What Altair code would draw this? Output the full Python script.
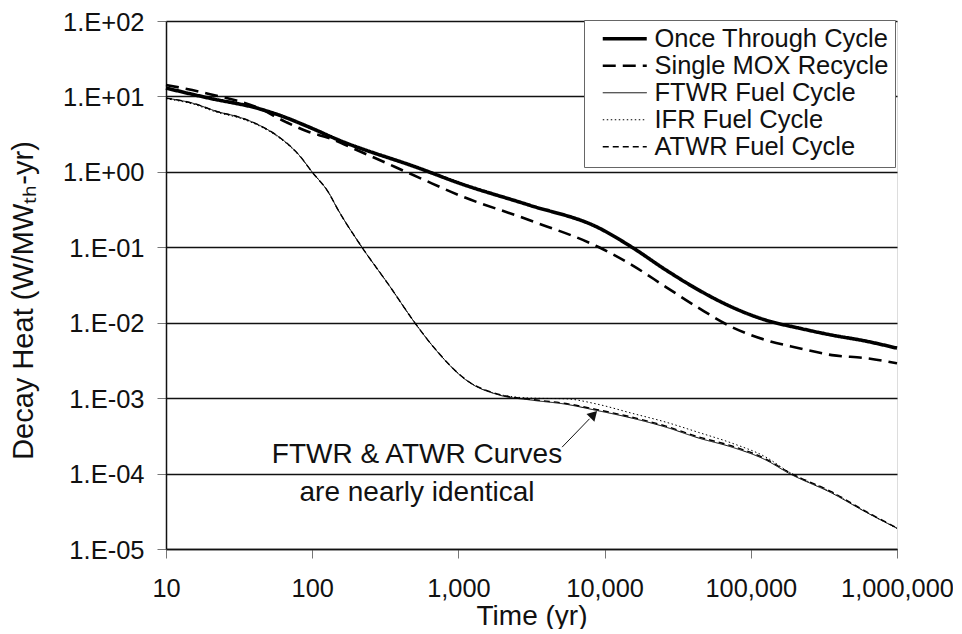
import altair as alt
import pandas as pd

FONT = "Liberation Sans"

series_names = ["Once Through Cycle", "Single MOX Recycle", "FTWR Fuel Cycle",
                "IFR Fuel Cycle", "ATWR Fuel Cycle"]

# thermal reactor cycles
ot_time = [10, 19.7, 43, 59.3, 95, 152, 537, 1010, 3040, 9160, 15400, 26300,
           44200, 74300, 127000, 214000, 359000, 613000, 1000000]
once_through = [12.9, 9.5, 6.9, 5.66, 3.93, 2.64, 1.12, 0.71, 0.363, 0.18, 0.10,
                0.0499, 0.027, 0.0161, 0.0108, 0.00847, 0.00685, 0.0057, 0.0046]
mox_time = [10, 19.7, 43, 66.2, 95, 130, 209, 537, 1010, 3040, 9160, 15400, 26300,
            44200, 74300, 127000, 214000, 359000, 613000, 1000000]
single_mox = [14.2, 10.8, 7.0, 4.57, 3.37, 2.81, 1.89, 0.84, 0.49, 0.23, 0.10,
              0.058, 0.0297, 0.0156, 0.00875, 0.00588, 0.0046, 0.00372, 0.00339,
              0.0029]

# transmutation cycles
fast_time = [10, 15, 23.0, 31.5, 43.2, 59.3, 81.3, 99.7, 130, 148, 219, 335, 505,
             659, 1180, 1900, 3190, 5440, 8730, 15400, 26300, 44200, 74300,
             127000, 182000, 359000, 613000, 1000000]
ftwr = [9.5, 8.2, 6.21, 5.33, 4.18, 2.90, 1.67, 1.0, 0.524, 0.331, 0.1, 0.0315,
        0.0099, 0.00505, 0.00163, 0.0011, 0.00094, 0.00083, 0.00069, 0.000543,
        0.000412, 0.000295, 0.000224, 0.000151, 0.000101, 5.5e-5, 3.08e-5, 1.89e-5]
ifr = [9.3, 8.0, 6.05, 5.2, 4.08, 2.84, 1.65, 1.0, 0.524, 0.331, 0.1, 0.0315,
       0.0099, 0.00505, 0.00165, 0.00112, 0.00100, 0.00098, 0.00084, 0.00063,
       0.00048, 0.00035, 0.000253, 0.000165, 0.000105, 5.6e-5, 3.1e-5, 1.87e-5]
atwr = [9.5, 8.2, 6.21, 5.33, 4.18, 2.90, 1.67, 1.0, 0.524, 0.331, 0.1, 0.0315,
        0.0099, 0.00505, 0.00165, 0.00112, 0.00096, 0.00085, 0.00071, 0.00056,
        0.000425, 0.000305, 0.000232, 0.000156, 0.000104, 5.7e-5, 3.15e-5, 1.9e-5]

x_ticks = [10, 100, 1000, 10000, 100000, 1000000]
y_ticks = [1e-5, 1e-4, 1e-3, 1e-2, 1e-1, 1, 10, 100]

annot_text = ["FTWR & ATWR Curves", "are nearly identical"]
annot_t = [521, 521]
annot_v = [1.36e-4, 4.3e-5]

arrow_t, arrow_v = [5120], [2.24e-4]
arrow_t2, arrow_v2 = [7890], [5.33e-4]
head_t, head_v = [8430], [6.08e-4]

rows = []
for name, ts, vs in [(series_names[0], ot_time, once_through),
                     (series_names[1], mox_time, single_mox),
                     (series_names[2], fast_time, ftwr),
                     (series_names[3], fast_time, ifr),
                     (series_names[4], fast_time, atwr)]:
    for t, v in zip(ts, vs):
        rows.append({"series": name, "t": t, "v": v})
df = pd.DataFrame(rows)

x_scale = alt.Scale(type="log", domain=[10, 1000000], nice=False)
y_scale = alt.Scale(type="log", domain=[1e-5, 100], nice=False)

label_expr = ("'1.E' + (datum.value >= 1 ? '+' : '-') + "
              "(abs(round(log(datum.value)/LN10)) < 10 ? '0' : '') + "
              "abs(round(log(datum.value)/LN10))")

x_enc = alt.X("t:Q", scale=x_scale, axis=alt.Axis(
    values=x_ticks, format=",d", grid=False, tickSize=9, tickColor="#777",
    domainColor="#111", domainWidth=1.5, labelFontSize=25.4, labelPadding=18,
    labelFont=FONT, labelColor="#111", labelFlush=False, labelOverlap=False,
    title="Time (yr)", titleFont=FONT, titleFontSize=28, titleFontWeight="normal",
    titleColor="#111", titleBaseline="alphabetic", titleY=75))
y_enc = alt.Y("v:Q", scale=y_scale, axis=alt.Axis(
    values=y_ticks, labelExpr=label_expr, grid=True, gridColor="#111",
    gridWidth=1.4, tickSize=9, tickColor="#777", domainColor="#111",
    domainWidth=1.5, labelFontSize=25.5, labelPadding=13, labelOffset=1,
    labelFont=FONT, labelColor="#111", labelOverlap=False,
    title="Decay Heat (W/MWₜₕ-yr)",
    titleFont=FONT, titleFontSize=29, titleFontWeight="normal",
    titleColor="#111", titleX=-128, titleY=279))

width_expr = ("datum.value === 'Once Through Cycle' ? 3.6 : "
              "datum.value === 'Single MOX Recycle' ? 2.6 : "
              "datum.value === 'ATWR Fuel Cycle' ? 1.4 : 1")

lines = alt.Chart(df).mark_line(interpolate="monotone", color="black").encode(
    x=x_enc,
    y=y_enc,
    detail="series:N",
    strokeDash=alt.StrokeDash("series:N", scale=alt.Scale(
        domain=series_names,
        range=[[1, 0], [13, 7], [1, 0], [1.5, 2.5], [6, 4]]),
        legend=alt.Legend(
            title=None, orient="none", legendX=418, legendY=-1,
            symbolType="M-2.2,0L2.2,0", symbolSize=400, symbolOffset=22,
            labelOffset=17, labelFontSize=25.5, labelFont=FONT, labelColor="#111",
            labelLimit=0, padding=6, rowPadding=0, strokeColor="#666",
            fillColor="white", symbolStrokeColor="black",
            symbolStrokeWidth={"expr": width_expr})),
    strokeWidth=alt.StrokeWidthValue(1, condition=[
        {"test": "datum.series === 'Once Through Cycle'", "value": 3.6},
        {"test": "datum.series === 'Single MOX Recycle'", "value": 2.6},
        {"test": "datum.series === 'ATWR Fuel Cycle'", "value": 1.4}]),
)

annot_df = pd.DataFrame({"t": annot_t, "v": annot_v, "text": annot_text})
annot = alt.Chart(annot_df).mark_text(
    font=FONT, fontSize=28, color="#111", align="center", baseline="alphabetic"
).encode(x=x_enc, y=y_enc, text="text:N")

arrow_df = pd.DataFrame({"t": arrow_t, "v": arrow_v, "t2": arrow_t2, "v2": arrow_v2})
arrow = alt.Chart(arrow_df).mark_rule(color="#111", strokeWidth=1).encode(
    x=x_enc, y=y_enc, x2="t2:Q", y2="v2:Q")

head_df = pd.DataFrame({"t": head_t, "v": head_v})
head = alt.Chart(head_df).mark_point(
    shape="triangle-up", angle=44, filled=True, size=120, color="#111", opacity=1
).encode(x=x_enc, y=y_enc)

chart = alt.layer(lines, annot, arrow, head).properties(
    width=731, height=528,
    autosize=alt.AutoSizeParams(type="none"),
    padding={"left": 158, "top": 13, "right": 56, "bottom": 80},
).configure_view(stroke="#777", strokeWidth=1).configure(background="white")

chart.save("out.html", embed_options={"renderer": "svg", "actions": False})
